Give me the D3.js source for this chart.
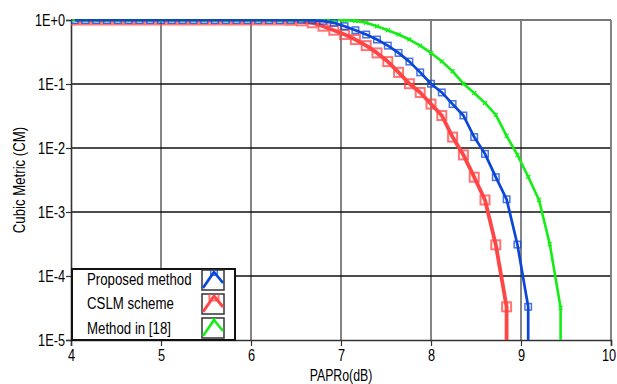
<!DOCTYPE html>
<html><head><meta charset="utf-8">
<script src="https://cdn.jsdelivr.net/npm/d3@7"></script>
<style>
body{margin:0;background:#fff}
svg{display:block}
text{font-family:"Liberation Sans",Arial,sans-serif;fill:#000}
</style>
</head><body><svg id="c" width="617" height="384"></svg>
<script>
// ---- data ----
const papr = [4.04,4.16,4.28,4.40,4.52,4.64,4.76,4.88,5.00,5.12,5.24,5.36,5.48,5.60,5.72,5.84,5.96,6.08,6.20,6.32,6.44,6.56,6.68,6.80,6.92,7.04,7.16,7.28,7.40,7.52,7.64,7.76,7.88,8.00,8.12,8.24,8.36,8.48,8.60,8.72,8.84,8.96,9.08,9.20,9.32,9.44];
const proposed = [1,1,1,1,1,1,1,1,1,1,1,1,1,1,1,1,1,1,1,1,1,1,
  0.99,0.97,0.904,0.80,0.692,0.593,0.495,0.398,0.306,0.224,0.152,0.101,0.0738,0.0486,0.0322,0.0148,0.0081,0.0035,0.00158,0.00031,0.000033];
const cslm = [1,1,1,1,1,1,1,1,1,1,1,1,1,1,1,1,1,1,1,1,
  0.99,0.97,0.904,0.80,0.692,0.593,0.495,0.398,0.306,0.224,0.152,0.101,0.0738,0.0486,0.0322,0.0148,0.0078,0.0035,0.00154,0.000307,0.000033];
const method18 = [1,1,1,1,1,1,1,1,1,1,1,1,1,1,1,1,1,1,1,1,1,1,1,1,1,
  0.99,0.97,0.904,0.80,0.692,0.593,0.495,0.398,0.306,0.226,0.158,0.101,0.0723,0.0505,0.033,0.0155,0.0078,0.00356,0.00154,0.000314,0.000032];
const seriesNames = ["Proposed method","CSLM scheme","Method in [18]"];
const xTicks = [4,5,6,7,8,9,10];
const yTicks = [1,1e-1,1e-2,1e-3,1e-4,1e-5];
const yTickLabels = ["1E+0","1E-1","1E-2","1E-3","1E-4","1E-5"];
const xLabel = "PAPRo(dB)";
const yLabel = "Cubic Metric (CM)";

// ---- layout ----
const svg = d3.select("#c");
const L=71, R=611, T=20, B=340;
const NX = 0.75; // narrow font factor
const x = d3.scaleLinear().domain([4,10]).range([L,R]);
const y = d3.scaleLog().domain([1e-5,1]).range([B,T]);

// gridlines
const grid = svg.append("g");
grid.selectAll("line.v").data(xTicks.slice(1,-1)).join("line")
  .attr("x1",d=>x(d)).attr("x2",d=>x(d)).attr("y1",T).attr("y2",B)
  .attr("stroke","#787878").attr("stroke-width",1.8);
grid.selectAll("line.h").data(yTicks.slice(1,-1)).join("line")
  .attr("x1",L).attr("x2",R).attr("y1",d=>y(d)).attr("y2",d=>y(d))
  .attr("stroke","#111").attr("stroke-width",1.3);
grid.append("line").attr("x1",L).attr("x2",R).attr("y1",T).attr("y2",T).attr("stroke","#787878").attr("stroke-width",1.8);
grid.append("line").attr("x1",R).attr("x2",R).attr("y1",T).attr("y2",B).attr("stroke","#787878").attr("stroke-width",1.8);

// axes
const yAxis = svg.append("g").attr("transform",`translate(${L},0)`)
  .call(d3.axisLeft(y).tickValues(yTicks).tickFormat((d,i)=>yTickLabels[i]).tickSize(5).tickPadding(1));
const xAxis = svg.append("g").attr("transform",`translate(0,${B})`)
  .call(d3.axisBottom(x).tickValues(xTicks).tickFormat(d3.format("d")).tickSize(6).tickPadding(3));
[yAxis,xAxis].forEach(a=>{
  a.select(".domain").attr("stroke","#333").attr("stroke-width",1.6);
  a.selectAll(".tick line").attr("stroke","#333").attr("stroke-width",1.2);
  a.selectAll("text").attr("font-size",17).attr("font-family",null);
});
yAxis.selectAll("text").each(function(){
  const t=d3.select(this); const xv=+t.attr("x");
  t.attr("transform",`scale(${NX},1)`).attr("x",xv/NX);
});
xAxis.selectAll("text").attr("transform",`scale(${NX},1)`)
  .filter(d=>d===xTicks[xTicks.length-1]).attr("x",-2.5/NX);

// clip
svg.append("clipPath").attr("id","clip").append("rect")
  .attr("x",L).attr("y",T-1).attr("width",R-L).attr("height",B-T+1);

const series = [
  {name:seriesNames[1], vals:cslm, color:"#ff4545", lw:3.8, marker:"sq", ms:9, mw:2, mo:0.75},
  {name:seriesNames[2], vals:method18, color:"#14ee14", lw:2.6, marker:"x", ms:4, mw:1.2, mo:1},
  {name:seriesNames[0], vals:proposed, color:"#0c46d8", lw:2.7, marker:"sq", ms:6.5, mw:1.5, mo:0.75},
];
const plot = svg.append("g").attr("clip-path","url(#clip)");
const line = d3.line().x(d=>x(d[0])).y(d=>y(d[1]));
series.forEach(s=>{
  const pts = s.vals.map((v,i)=>[papr[i],v]);
  const drop = pts.concat([[papr[s.vals.length-1], y.domain()[0]]]);
  plot.append("path").attr("d",line(drop)).attr("fill","none")
    .attr("stroke",s.color).attr("stroke-width",s.lw).attr("stroke-linejoin","round");
  const g = plot.append("g").attr("opacity",s.mo);
  pts.forEach(p=>drawMarker(g, x(p[0]), y(p[1]), s));
});

function drawMarker(g, cx, cy, s){
  if(s.marker==="sq"){
    g.append("rect").attr("x",cx-s.ms/2).attr("y",cy-s.ms/2).attr("width",s.ms).attr("height",s.ms)
      .attr("fill","none").attr("stroke",s.color).attr("stroke-width",s.mw);
  } else {
    const h=s.ms/2;
    g.append("path").attr("d",`M${cx-h},${cy-h}L${cx+h},${cy+h}M${cx-h},${cy+h}L${cx+h},${cy-h}`)
      .attr("stroke",s.color).attr("stroke-width",s.mw).attr("fill","none");
  }
}

// legend
const leg = svg.append("g");
leg.append("rect").attr("x",72).attr("y",269).attr("width",163).attr("height",71)
  .attr("fill","#fff").attr("stroke","#111").attr("stroke-width",2);
const legOrder = [series[2],series[0],series[1]];
legOrder.forEach((s,i)=>{
  const ty = 284.5 + i*24.5;
  leg.append("text").attr("transform",`translate(87,${ty}) scale(0.78,1)`)
    .attr("font-size",17).text(s.name);
  const bx=202, by=270+i*24;
  const cid="lc"+i;
  leg.append("clipPath").attr("id",cid).append("rect").attr("x",bx).attr("y",by).attr("width",22).attr("height",20);
  leg.append("rect").attr("x",bx).attr("y",by).attr("width",22).attr("height",20)
    .attr("fill","#fff").attr("stroke","#333").attr("stroke-width",1.5);
  const ig = leg.append("g").attr("clip-path",`url(#${cid})`);
  ig.append("path").attr("d",`M${bx+1},${by+18}L${bx+12},${by+2}L${bx+21},${by+13}`)
    .attr("fill","none").attr("stroke",s.color).attr("stroke-width",Math.min(s.lw,3)).attr("stroke-linejoin","round");
  drawMarker(ig.append("g").attr("opacity",s.mo), bx+12, by+2, s);
});

// axis titles
svg.append("text").attr("transform",`translate(${x(7)},381) scale(0.77,1)`)
  .attr("text-anchor","middle").attr("font-size",16).text(xLabel);
svg.append("text").attr("transform",`translate(25,${(T+B)/2}) rotate(-90) scale(0.8,1)`)
  .attr("text-anchor","middle").attr("font-size",16.5).text(yLabel);
</script>
</body></html>
